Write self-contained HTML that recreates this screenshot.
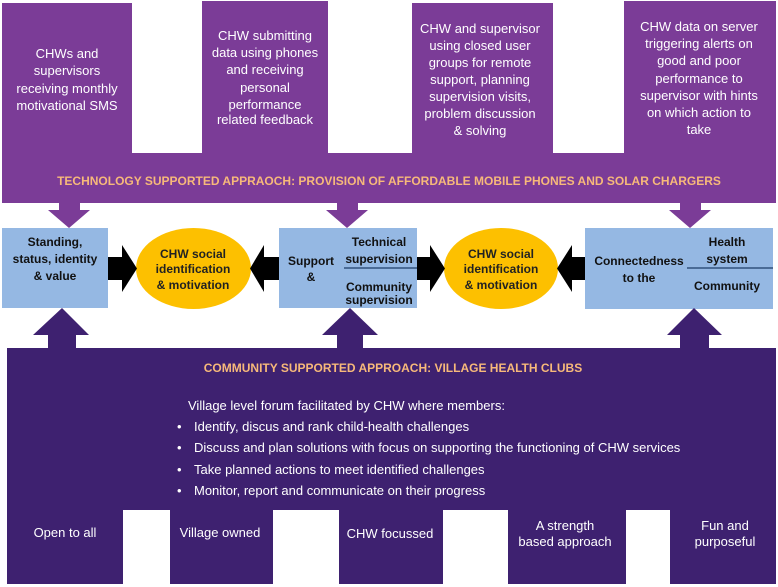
<!DOCTYPE html>
<html><head><meta charset="utf-8"><style>
html,body{margin:0;padding:0;background:#fff;}
svg{display:block;}
text{font-family:"Liberation Sans",sans-serif;}
</style></head><body>
<svg width="778" height="587" viewBox="0 0 778 587" xmlns="http://www.w3.org/2000/svg">
<path d="M2,3 H132 V153 H202 V1 H328 V153 H412 V3 H553 V153 H624 V1 H776 V203 H2 Z" fill="#7b3c97"/>
<polygon points="59,203 80,203 80,210 90,210 69,228 48,210 59,210" fill="#7b3c97"/>
<polygon points="337,203 358,203 358,210 368,210 347,228 326,210 337,210" fill="#7b3c97"/>
<polygon points="680,203 701,203 701,210 711,210 690,228 669,210 680,210" fill="#7b3c97"/>
<g fill="#fff" font-size="13" text-anchor="middle">
<text x="67" y="58">CHWs and</text>
<text x="67" y="75">supervisors</text>
<text x="67" y="93">receiving monthly</text>
<text x="67" y="110">motivational  SMS</text>
<text x="265" y="40">CHW submitting</text>
<text x="265" y="57">data using phones</text>
<text x="265" y="74">and receiving</text>
<text x="265" y="92">personal</text>
<text x="265" y="109">performance</text>
<text x="265" y="124">related feedback</text>
<text x="480" y="33">CHW and supervisor</text>
<text x="480" y="50">using closed user</text>
<text x="480" y="67">groups for remote</text>
<text x="480" y="84">support, planning</text>
<text x="480" y="101">supervision visits,</text>
<text x="480" y="118">problem  discussion</text>
<text x="480" y="135">&amp; solving</text>
<text x="699" y="31">CHW data on server</text>
<text x="699" y="48">triggering alerts on</text>
<text x="699" y="65">good and poor</text>
<text x="699" y="83">performance  to</text>
<text x="699" y="100">supervisor with hints</text>
<text x="699" y="117">on which action to</text>
<text x="699" y="134">take</text>
</g>
<text x="389" y="185" fill="#f7b97a" font-size="12" font-weight="bold" text-anchor="middle">TECHNOLOGY SUPPORTED APPRAOCH: PROVISION OF AFFORDABLE MOBILE PHONES AND SOLAR CHARGERS</text>

<rect x="2" y="228" width="106" height="80" fill="#95b8e3"/>
<rect x="279" y="228" width="138" height="80" fill="#95b8e3"/>
<rect x="585" y="228" width="188" height="81" fill="#95b8e3"/>
<ellipse cx="193.5" cy="268.5" rx="57.5" ry="40.5" fill="#fdc000"/>
<ellipse cx="501" cy="268.5" rx="57" ry="40.5" fill="#fdc000"/>
<polygon points="108,257 122,257 122,245 137,268.5 122,292 122,280 108,280" fill="#000"/>
<polygon points="279,257 264,257 264,245 250,268.5 264,292 264,280 279,280" fill="#000"/>
<polygon points="417,257 430,257 430,245 445,268.5 430,292 430,280 417,280" fill="#000"/>
<polygon points="585,257 572,257 572,245 557,268.5 572,292 572,280 585,280" fill="#000"/>
<line x1="344" y1="268" x2="417" y2="268" stroke="#4a6b96" stroke-width="2"/>
<line x1="687" y1="268" x2="773" y2="268" stroke="#4a6b96" stroke-width="2"/>
<g font-size="12" font-weight="bold" fill="#111" text-anchor="middle">
<text x="55" y="246">Standing,</text>
<text x="55" y="263">status, identity</text>
<text x="55" y="280">&amp; value</text>
<text x="193" y="258" fill="#222">CHW social</text>
<text x="193" y="273" fill="#222">identification</text>
<text x="193" y="289" fill="#222">&amp; motivation</text>
<text x="501" y="258" fill="#222">CHW social</text>
<text x="501" y="273" fill="#222">identification</text>
<text x="501" y="289" fill="#222">&amp; motivation</text>
<text x="311" y="265">Support</text>
<text x="311" y="281">&amp;</text>
<text x="379" y="246">Technical</text>
<text x="379" y="263">supervision</text>
<text x="379" y="291">Community</text>
<text x="379" y="304">supervision</text>
<text x="639" y="265">Connectedness</text>
<text x="639" y="282">to the</text>
<text x="727" y="246">Health</text>
<text x="727" y="263">system</text>
<text x="727" y="290">Community</text>
</g>

<path d="M7,348 H48 V335 H33 L62,308 L89,335 H76 V348 H337 V335 H322 L350,308 L378,335 H363 V348 H680 V335 H667 L694,308 L722,335 H709 V348 H776 V584 H670 V510 H626 V584 H508 V510 H443 V584 H339 V510 H273 V584 H170 V510 H123 V584 H7 Z" fill="#3e2170"/>
<text x="393" y="372" fill="#f7b97a" font-size="12" font-weight="bold" text-anchor="middle">COMMUNITY  SUPPORTED APPROACH: VILLAGE HEALTH CLUBS</text>
<g fill="#fff" font-size="13">
<text x="188" y="410">Village level forum facilitated by CHW where members:</text>
<text x="177" y="431">•</text><text x="194" y="431">Identify, discus and rank child-health challenges</text>
<text x="177" y="452">•</text><text x="194" y="452">Discuss and plan solutions with focus on supporting the functioning of CHW services</text>
<text x="177" y="474">•</text><text x="194" y="474">Take planned actions to meet identified challenges</text>
<text x="177" y="495">•</text><text x="194" y="495">Monitor, report and communicate on their progress</text>
</g>
<g fill="#fff" font-size="13" text-anchor="middle">
<text x="65" y="537">Open to all</text>
<text x="220" y="537">Village owned</text>
<text x="390" y="538">CHW focussed</text>
<text x="565" y="530">A strength</text>
<text x="565" y="546">based approach</text>
<text x="725" y="530">Fun and</text>
<text x="725" y="546">purposeful</text>
</g>
</svg>
</body></html>
